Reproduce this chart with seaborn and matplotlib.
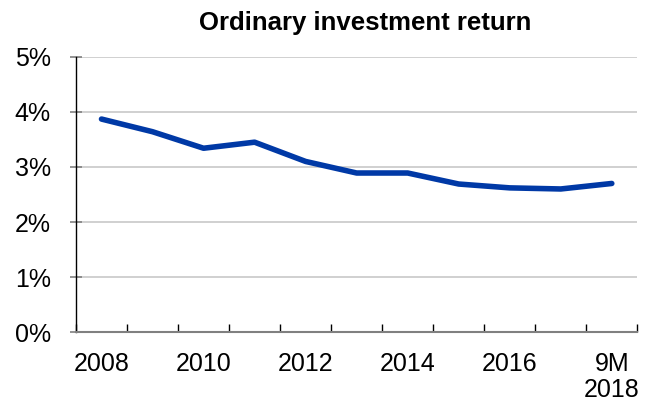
import numpy as np
import pandas as pd
import matplotlib
matplotlib.use("Agg")
import matplotlib.pyplot as plt
import seaborn as sns

# Data
periods = ["2008", "2009", "2010", "2011", "2012", "2013",
           "2014", "2015", "2016", "2017", "9M\n2018"]
returns = [3.87, 3.64, 3.34, 3.45, 3.10, 2.89, 2.89, 2.69, 2.62, 2.60, 2.70]
shown_labels = ["2008", "", "2010", "", "2012", "", "2014", "", "2016", "", "9M\n2018"]

df = pd.DataFrame({"period": periods, "ret": returns})
df["pos"] = np.arange(len(df))

sns.set_theme(style="white")
plt.rcParams['font.family'] = ['Liberation Sans', 'DejaVu Sans']
plt.rcParams['text.color'] = 'black'
plt.rcParams['xtick.color'] = 'black'
plt.rcParams['ytick.color'] = 'black'

fig = plt.figure(figsize=(6.55, 4.09), dpi=100)
ax = fig.add_axes([0.116, 0.188, 0.857, 0.673])

sns.lineplot(data=df, x="pos", y="ret", color="#0039A6", linewidth=4,
             solid_capstyle="round", ax=ax)

ax.set_xlim(-0.5, len(df) - 0.5)
ax.set_ylim(0, 5)
ax.set_yticks(range(6))
ax.set_yticklabels([f"{v}%" for v in range(6)], fontsize=18)
ax.yaxis.grid(True, color="#C8C8C8", linewidth=1.2)
ax.set_axisbelow(True)

ax.set_xticks(df["pos"])
ax.set_xticklabels(shown_labels, fontsize=18, linespacing=1.15)
ax.set_xticks(np.arange(-0.5, len(df)), minor=True)
ax.tick_params(axis="x", which="both", bottom=True)
ax.tick_params(axis="x", which="major", length=0, pad=14)
ax.tick_params(axis="x", which="minor", length=6, width=1, color="black",
               direction="in")
ax.tick_params(axis="y", left=True, length=8, width=1.2, color="#808080",
               direction="inout", pad=14)
for t in ax.get_xticklabels() + ax.get_yticklabels():
    t.set_color("black")

ax.set_xlabel("")
ax.set_ylabel("")
for s in ["top", "right"]:
    ax.spines[s].set_visible(False)
ax.spines["left"].set_color("black")
ax.spines["left"].set_linewidth(1)
ax.spines["bottom"].set_color("#808080")
ax.spines["bottom"].set_linewidth(1.5)

ax.set_title("Ordinary investment return", fontsize=18.5, fontweight="bold",
             color="black", pad=19, x=0.515)

fig.savefig("out.png", dpi=100)
